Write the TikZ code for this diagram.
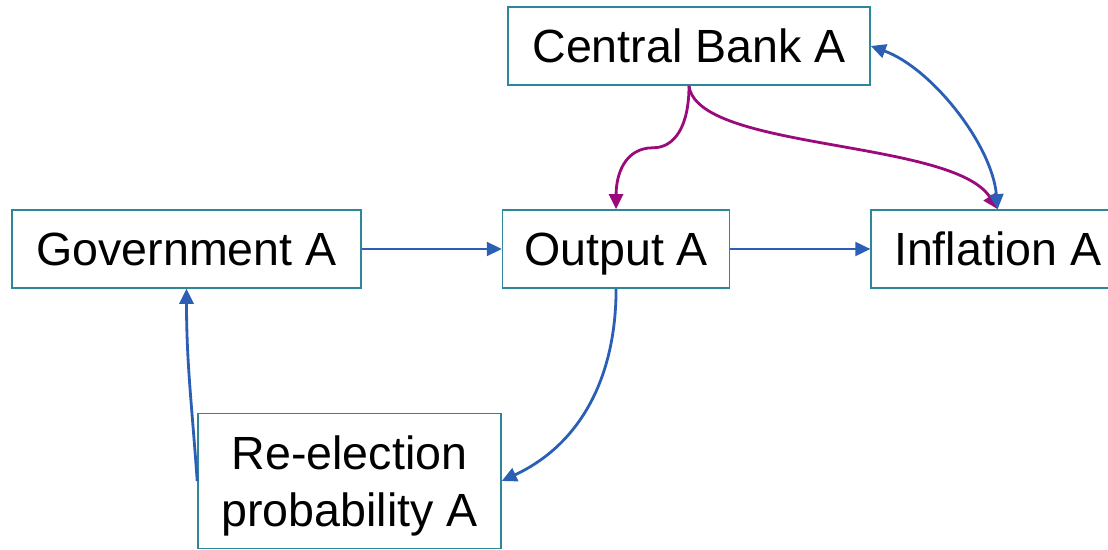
\documentclass[tikz,border=0pt]{standalone}
\usepackage{fontspec}
\setmainfont{Liberation Sans}
\usetikzlibrary{arrows.meta,positioning}
\definecolor{BoxTeal}{HTML}{2E8799}
\definecolor{LinkBlue}{HTML}{2A5FB5}
\definecolor{LinkPurple}{HTML}{9B0A7A}

\begin{document}
\begin{tikzpicture}[
    node distance=2.8cm,
    >={Triangle[length=0.3cm,width=0.28cm]},
    box/.style={
      draw=BoxTeal,
      line width=0.9pt,
      fill=white,
      minimum height=1.56cm,
      inner sep=0pt,
      text depth=0pt,
      align=center,
      text=black,
      font=\fontsize{26.5}{32.5}\selectfont
    },
    arrow/.style={->, line width=1.1pt, draw=LinkBlue},
    curvearrow/.style={->, line width=1.6pt, draw=LinkBlue},
    cbarrow/.style={->, line width=1.6pt, draw=LinkPurple}
  ]
    \useasboundingbox (0,0) rectangle (22.16,11);

    \node[box, minimum width=6.98cm] (gov) at (3.73,6.02) {Government A};
    \node[box, minimum width=4.54cm, right=of gov] (out) {Output A};
    \node[box, minimum width=5.06cm, right=of out] (infl) {Inflation A};

    \node[box, minimum width=7.24cm] (cb) at (13.78,10.08) {Central Bank A};
    \node[box, minimum width=6.06cm, minimum height=2.7cm] (elect) at (6.99,1.38) {Re-election\\probability A};

    \draw[arrow] (gov) -- (out);
    \draw[arrow] (out) -- (infl);
    \draw[cbarrow] (cb.south) .. controls +(0,-0.8) and +(0.44,0) .. ++(-0.72,-1.24)
      .. controls +(-0.56,0) and +(0,0.7) .. (out.north);
    \draw[cbarrow] (cb.south) .. controls +(0.16,-1.3) and +(-0.9,1.4) .. (infl.north);
    \draw[curvearrow, <->] (infl.north) to[out=95, in=-20, looseness=0.8] (cb.east);
    \draw[curvearrow] (out.south) to[out=-90, in=25] (elect.east);
    \draw[curvearrow] (elect.west) to[out=94, in=-90] (gov.south);
  \end{tikzpicture}
\end{document}
